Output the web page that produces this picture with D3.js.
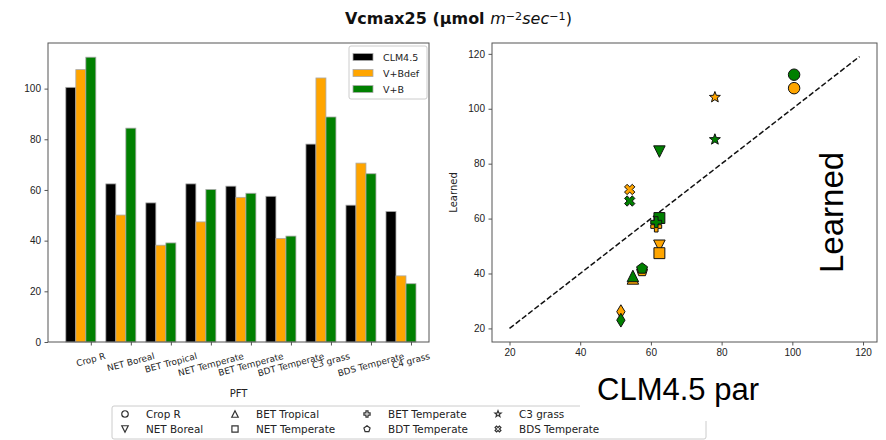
<!DOCTYPE html>
<html>
<head>
<meta charset="utf-8">
<title>Vcmax25</title>
<script src="https://cdn.jsdelivr.net/npm/d3@7"></script>
<style>
  body { margin: 0; background: #fff; }
  svg { font-family: "DejaVu Sans", sans-serif; }
  .axis text { font-size: 10px; fill: #222; }
  .axis line { stroke: #555; }
  .frame { fill: none; stroke: #555; stroke-width: 1; }
</style>
</head>
<body>
<script>
  // values
  const pfts = ['Crop R', 'NET Boreal', 'BET Tropical', 'NET Temperate', 'BET Temperate',
    'BDT Temperate', 'C3 grass', 'BDS Temperate', 'C4 grass'];
  const clm45 = [100.5, 62.4, 54.9, 62.4, 61.5, 57.5, 78.1, 54.0, 51.5];
  const vbdef = [107.5, 50.1, 38.2, 47.4, 57.1, 40.9, 104.2, 70.6, 26.1];
  const vb = [112.4, 84.4, 39.1, 60.2, 58.7, 41.8, 88.8, 66.4, 23.0];
  const seriesNames = ['CLM4.5', 'V+Bdef', 'V+B'];
  const seriesColors = ['black', 'orange', 'green'];
  const barTicks = [0, 20, 40, 60, 80, 100];
  const scatterTicks = [20, 40, 60, 80, 100, 120];
  const pftMarkers = ['circle', 'triDown', 'triUp', 'square', 'plus', 'pentagon', 'star', 'xfilled', 'thinDiamond'];
  const diagonal = [20, 119];
  const legendPfts = ['Crop R', 'NET Boreal', 'BET Tropical', 'NET Temperate',
    'BET Temperate', 'BDT Temperate', 'C3 grass', 'BDS Temperate'];

  const width = 886, height = 440;
  const svg = d3.select('body').append('svg')
    .attr('width', width)
    .attr('height', height);

  // marker shapes, roughly matplotlib's
  function markerPath(name, s) {
    const h = s / 2;
    const poly = pts => 'M' + pts.map(p => p[0].toFixed(2) + ',' + p[1].toFixed(2)).join('L') + 'Z';
    switch (name) {
      case 'circle': return d3.symbol(d3.symbolCircle, Math.PI * h * h)();
      case 'triUp': return poly([[0, -h], [-h, h], [h, h]]);
      case 'triDown': return poly([[0, h], [-h, -h], [h, -h]]);
      case 'square': { const a = h * 0.95; return poly([[-a, -a], [a, -a], [a, a], [-a, a]]); }
      case 'plus': {
        const a = h * 0.95, b = a / 3;
        return poly([[-b, -a], [b, -a], [b, -b], [a, -b], [a, b], [b, b], [b, a], [-b, a], [-b, b], [-a, b], [-a, -b], [-b, -b]]);
      }
      case 'pentagon': return poly(d3.range(5).map(k => {
        const t = -Math.PI / 2 + k * 2 * Math.PI / 5;
        return [h * Math.cos(t), h * Math.sin(t)];
      }));
      case 'star': return poly(d3.range(10).map(k => {
        const t = -Math.PI / 2 + k * Math.PI / 5, r = k % 2 ? h * 0.42 : h;
        return [r * Math.cos(t), r * Math.sin(t)];
      }));
      case 'xfilled': {
        const u = h * 0.45;
        return poly([[-1, -2], [0, -1], [1, -2], [2, -1], [1, 0], [2, 1], [1, 2], [0, 1], [-1, 2], [-2, 1], [-1, 0], [-2, -1]]
          .map(p => [p[0] * u, p[1] * u]));
      }
      case 'thinDiamond': return poly([[0, -h * 1.2], [h * 0.72, 0], [0, h * 1.2], [-h * 0.72, 0]]);
    }
  }

  // ---------- title ----------
  // sized so it spans about x=345..572 like the reference
  const title = svg.append('text')
    .attr('x', 345).attr('y', 24)
    .style('font-size', '13.5px').style('fill', '#111');
  title.append('tspan').style('font-weight', 'bold').text('Vcmax25 (µmol ');
  title.append('tspan').style('font-style', 'italic').text('m');
  title.append('tspan').attr('dy', '-0.38em').style('font-size', '0.7em').text('−2');
  title.append('tspan').attr('dy', '0.27em').style('font-style', 'italic').text('sec');
  title.append('tspan').attr('dy', '-0.38em').style('font-size', '0.7em').text('−1');
  title.append('tspan').attr('dy', '0.27em').text(')');
  const tw = title.node().getBBox().width;
  title.style('font-size', (13.5 * 227 / tw).toFixed(2) + 'px');

  // ---------- left: bar chart ----------
  const L = { left: 48, right: 429, top: 43, bottom: 342 };
  const xb = d3.scaleLinear().domain([-1.07, 8.45]).range([L.left, L.right]);
  const yb = d3.scaleLinear().domain([0, 118]).range([L.bottom, L.top]);
  const barW = 0.25;
  const barSeries = [clm45, vbdef, vb];

  const gBars = svg.append('g');
  barSeries.forEach((vals, s) => {
    gBars.selectAll('.bar' + s)
      .data(vals)
      .join('rect')
      .attr('x', (d, i) => xb(i - 2.5 * barW + s * barW))
      .attr('width', (d, i) => xb(barW) - xb(0))
      .attr('y', d => yb(d))
      .attr('height', d => yb(0) - yb(d))
      .attr('fill', seriesColors[s])
      .attr('stroke', '#aaa')
      .attr('stroke-width', 0.8);
  });

  const yAxisL = svg.append('g').attr('class', 'axis')
    .attr('transform', `translate(${L.left},0)`)
    .call(d3.axisLeft(yb).tickValues(barTicks).tickSize(3.5).tickPadding(3.5));
  yAxisL.select('.domain').remove();

  const xAxisL = svg.append('g').attr('class', 'axis')
    .attr('transform', `translate(0,${L.bottom})`)
    .call(d3.axisBottom(xb).tickValues(d3.range(pfts.length)).tickSize(3.5).tickFormat(''));
  xAxisL.select('.domain').remove();

  // rotated category labels, centred on their ticks
  const labelTop = L.bottom + 9;
  const rot = 15 * Math.PI / 180;
  svg.append('g').selectAll('text')
    .data(pfts)
    .join('text')
    .style('font-size', '8.9px').style('fill', '#222')
    .attr('text-anchor', 'middle')
    .attr('dominant-baseline', 'central')
    .text(d => d)
    .each(function (d, i) {
      const w = this.getComputedTextLength(), h = 10;
      const cy = labelTop + (w * Math.sin(rot) + h * Math.cos(rot)) / 2;
      d3.select(this).attr('transform', `translate(${xb(i)},${cy}) rotate(-15)`);
    });

  svg.append('text')
    .attr('x', (L.left + L.right) / 2).attr('y', 397)
    .attr('text-anchor', 'middle')
    .style('font-size', '10px').style('fill', '#222')
    .text('PFT');

  svg.append('rect').attr('class', 'frame')
    .attr('x', L.left).attr('y', L.top)
    .attr('width', L.right - L.left).attr('height', L.bottom - L.top);

  // bar legend
  const lg = svg.append('g').attr('transform', 'translate(349,46)');
  lg.append('rect')
    .attr('width', 78).attr('height', 53).attr('rx', 2)
    .attr('fill', 'white').attr('fill-opacity', 0.8)
    .attr('stroke', '#ccc');
  seriesNames.forEach((name, s) => {
    const cy = 11 + s * 16;
    lg.append('rect')
      .attr('x', 4).attr('y', cy - 3.5).attr('width', 20).attr('height', 7)
      .attr('fill', seriesColors[s]).attr('stroke', '#aaa').attr('stroke-width', 0.8);
    lg.append('text')
      .attr('x', 34).attr('y', cy).attr('dominant-baseline', 'central')
      .style('font-size', '9.5px').style('fill', '#222')
      .text(name);
  });

  // ---------- right: scatter ----------
  const R = { left: 492, right: 877, top: 43, bottom: 342 };
  const xs = d3.scaleLinear().domain([15.05, 123.95]).range([R.left, R.right]);
  const ys = d3.scaleLinear().domain([15.05, 123.95]).range([R.bottom, R.top]);

  const yAxisR = svg.append('g').attr('class', 'axis')
    .attr('transform', `translate(${R.left},0)`)
    .call(d3.axisLeft(ys).tickValues(scatterTicks).tickSize(3.5).tickPadding(3.5));
  yAxisR.select('.domain').remove();
  const xAxisR = svg.append('g').attr('class', 'axis')
    .attr('transform', `translate(0,${R.bottom})`)
    .call(d3.axisBottom(xs).tickValues(scatterTicks).tickSize(3.5).tickPadding(3.5));
  xAxisR.select('.domain').remove();

  svg.append('text')
    .attr('transform', `translate(457,${(R.top + R.bottom) / 2}) rotate(-90)`)
    .attr('text-anchor', 'middle')
    .style('font-size', '10px').style('fill', '#222')
    .text('Learned');

  svg.append('line')
    .attr('x1', xs(diagonal[0])).attr('y1', ys(diagonal[0]))
    .attr('x2', xs(diagonal[1])).attr('y2', ys(diagonal[1]))
    .attr('stroke', '#111').attr('stroke-width', 1.5)
    .attr('stroke-dasharray', '5.5,2.4');

  const gPts = svg.append('g');
  pfts.forEach((p, i) => {
    [[vbdef, 'orange'], [vb, 'green']].forEach(([vals, col]) => {
      gPts.append('path')
        .attr('d', markerPath(pftMarkers[i], 11.5))
        .attr('transform', `translate(${xs(clm45[i])},${ys(vals[i])})`)
        .attr('fill', col)
        .attr('stroke', '#111')
        .attr('stroke-width', 1);
    });
  });

  svg.append('rect').attr('class', 'frame')
    .attr('x', R.left).attr('y', R.top)
    .attr('width', R.right - R.left).attr('height', R.bottom - R.top);

  // ---------- bottom marker legend ----------
  const bl = svg.append('g');
  bl.append('rect')
    .attr('x', 112).attr('y', 406).attr('width', 594).attr('height', 33).attr('rx', 2)
    .attr('fill', 'white').attr('stroke', '#ccc');
  const colX = [125, 235, 367, 498];
  const rowY = [414, 429];
  legendPfts.forEach((name, k) => {
    const col = Math.floor(k / 2), row = k % 2;
    const i = pfts.indexOf(name);
    bl.append('path')
      .attr('d', markerPath(pftMarkers[i], 6.5))
      .attr('transform', `translate(${colX[col]},${rowY[row]})`)
      .attr('fill', 'white').attr('stroke', '#333').attr('stroke-width', 1.2);
    bl.append('text')
      .attr('x', colX[col] + 21).attr('y', rowY[row])
      .attr('dominant-baseline', 'central')
      .style('font-size', '10.4px').style('fill', '#222')
      .text(name);
  });

  // ---------- overlaid slide annotations ----------
  svg.append('rect')
    .attr('x', 580).attr('y', 362).attr('width', 210).attr('height', 59)
    .attr('fill', 'white');
  svg.append('text')
    .attr('x', 597).attr('y', 400)
    .style('font-family', '"Liberation Sans", Arial, sans-serif')
    .style('font-size', '31px').style('fill', '#000')
    .text('CLM4.5 par');
  svg.append('text')
    .attr('transform', 'translate(843,273) rotate(-90)')
    .style('font-family', '"Liberation Sans", Arial, sans-serif')
    .style('font-size', '33px').style('fill', '#000')
    .text('Learned');
</script>
</body>
</html>
